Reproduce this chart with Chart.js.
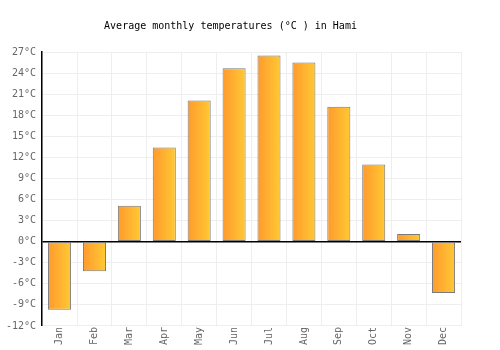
<!DOCTYPE html>
<html>
<head>
<meta charset="utf-8">
<script src="https://cdn.jsdelivr.net/npm/chart.js@4/dist/chart.umd.min.js"></script>
<style>
  html, body { margin: 0; padding: 0; background: #fff; }
  #wrap { width: 500px; height: 350px; }
</style>
</head>
<body>
<div id="wrap"><canvas id="myChart"></canvas></div>
<script>
// data
const months = ['Jan', 'Feb', 'Mar', 'Apr', 'May', 'Jun', 'Jul', 'Aug', 'Sep', 'Oct', 'Nov', 'Dec'];
const temps = [-9.7, -4.2, 5.1, 13.4, 20.1, 24.7, 26.5, 25.5, 19.2, 11.0, 1.1, -7.3];
const yMin = -12;
const yMax = 27;
const yStep = 3;

const FONT = '"DejaVu Sans Mono", monospace';

// each bar gets its own left-to-right orange gradient
// (backgroundColor is scriptable so every bar keeps its own options object)
const barGradient = {
  id: 'barGradient',
  beforeDatasetsDraw(chart) {
    const ctx = chart.ctx;
    chart.getDatasetMeta(0).data.forEach(bar => {
      const left = bar.x - bar.width / 2;
      const g = ctx.createLinearGradient(left, 0, left + bar.width, 0);
      g.addColorStop(0, '#ff9a2e');
      g.addColorStop(1, '#ffc933');
      bar.options.backgroundColor = g;
    });
  }
};

new Chart(document.getElementById('myChart'), {
  type: 'bar',
  data: {
    labels: months,
    datasets: [{
      data: temps,
      backgroundColor: () => '#ffb030',
      borderColor: '#7a7a7a',
      borderWidth: 1,
      borderSkipped: false,
      barPercentage: 0.66,
      categoryPercentage: 1
    }]
  },
  options: {
    responsive: true,
    maintainAspectRatio: false,
    animation: false,
    layout: { padding: { left: 0, right: 39, top: 0, bottom: 4 } },
    plugins: {
      legend: { display: false },
      tooltip: { enabled: false },
      title: {
        display: true,
        text: 'Average monthly temperatures (°C ) in Hami',
        color: '#000',
        font: { family: FONT, size: 10, weight: 'normal' },
        padding: { top: 20, bottom: 20 }
      }
    },
    scales: {
      x: {
        grid: { color: '#eeeeee', offset: true, drawTicks: false },
        border: { display: false },
        ticks: {
          color: '#666',
          font: { family: FONT, size: 10 },
          minRotation: 90,
          maxRotation: 90,
          padding: 1
        }
      },
      y: {
        min: yMin,
        max: yMax,
        grid: {
          drawTicks: false,
          color: c => c.tick.value === 0 ? '#000' : '#eeeeee',
          lineWidth: c => c.tick.value === 0 ? 1.5 : 1
        },
        border: { color: '#000', width: 1.5 },
        ticks: {
          stepSize: yStep,
          color: '#666',
          font: { family: FONT, size: 10 },
          padding: 6,
          callback: v => v + '°C'
        }
      }
    }
  },
  plugins: [barGradient]
});
</script>
</body>
</html>
